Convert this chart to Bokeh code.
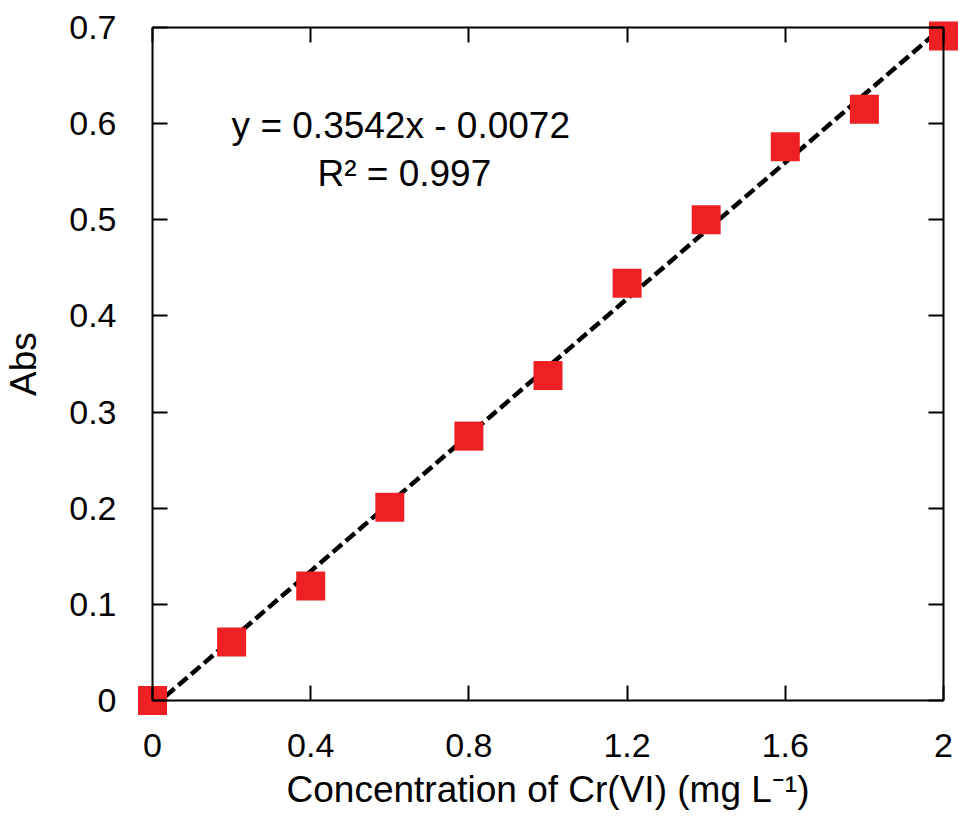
from bokeh.plotting import figure
from bokeh.models import LinearAxis, FixedTicker, Range1d, Label
from bokeh.embed import file_html
from bokeh.resources import INLINE

# data
conc = [0.0, 0.2, 0.4, 0.6, 0.8, 1.0, 1.2, 1.4, 1.6, 1.8, 2.0]
absorb = [0.0, 0.061, 0.119, 0.201, 0.275, 0.338, 0.434, 0.500, 0.576, 0.615, 0.691]
slope = 0.3542
intercept = -0.0072
fit_x = [0.0, 2.0]
x_ticks = [0, 0.4, 0.8, 1.2, 1.6, 2.0]
x_tick_labels = ["0", "0.4", "0.8", "1.2", "1.6", "2"]
y_ticks = [0, 0.1, 0.2, 0.3, 0.4, 0.5, 0.6, 0.7]
y_tick_labels = ["0", "0.1", "0.2", "0.3", "0.4", "0.5", "0.6", "0.7"]
x_min, x_max = 0.0, 2.0
y_min, y_max = 0.0, 0.7
eq_text = "y = 0.3542x - 0.0072"
r2_text = "R² = 0.997"

FONT = "Liberation Sans"
FS = "34px"
FS_LABEL = "37px"

# small padding so edge markers are not clipped; box axes are pinned to the data box
pad_x = 0.0405
pad_y = 0.0166

p = figure(width=959, height=818, output_backend="svg", toolbar_location=None,
           x_range=Range1d(x_min - pad_x, x_max + pad_x),
           y_range=Range1d(y_min - pad_y, y_max + pad_y),
           min_border_left=136, min_border_right=0, min_border_top=11, min_border_bottom=102,
           x_axis_label="Concentration of Cr(VI) (mg L⁻¹)", y_axis_label="Abs")
p.grid.visible = False
p.outline_line_color = None

fit_y = [slope * v + intercept for v in fit_x]
p.line(fit_x, fit_y, line_color="black", line_width=4.5, line_dash="12 5")
p.scatter(conc, absorb, marker="square", size=29, fill_color="#EE2024", line_color="#EE2024", line_width=0)

# label-only axes at the frame edges
xa = p.xaxis[0]
ya = p.yaxis[0]
for ax, ticks, labels in ((xa, x_ticks, x_tick_labels), (ya, y_ticks, y_tick_labels)):
    ax.ticker = FixedTicker(ticks=ticks)
    ax.major_label_overrides = dict(zip(ticks, labels))
    ax.axis_line_color = None
    ax.major_tick_line_color = None
    ax.minor_tick_line_color = None
    ax.major_tick_in = 0
    ax.major_tick_out = 0
    ax.major_label_text_font = FONT
    ax.major_label_text_font_size = FS
    ax.major_label_text_color = "black"
    ax.axis_label_text_font = FONT
    ax.axis_label_text_font_size = FS_LABEL
    ax.axis_label_text_font_style = "normal"
    ax.axis_label_text_color = "black"
xa.major_label_standoff = 17
ya.major_label_standoff = 20
xa.axis_label_standoff = 9
ya.axis_label_standoff = 22

# pinned box axes: lines + inward ticks (drawn as minor ticks, so no label texts)
def box_axis(ticks, loc, bounds, side):
    ax = LinearAxis(ticker=FixedTicker(ticks=[], minor_ticks=ticks), fixed_location=loc, bounds=bounds)
    ax.major_tick_line_color = None
    ax.minor_tick_in = 15
    ax.minor_tick_out = 0
    ax.minor_tick_line_width = 2
    ax.minor_tick_line_color = "black"
    ax.axis_line_width = 2
    ax.axis_line_color = "black"
    ax.major_label_standoff = 0
    p.add_layout(ax, side)
    return ax

box_axis(x_ticks, y_min, (x_min, x_max), "below")
box_axis(x_ticks, y_max, (x_min, x_max), "above")
box_axis(y_ticks, x_min, (y_min, y_max), "left")
box_axis(y_ticks, x_max, (y_min, y_max), "right")

p.add_layout(Label(x=0.2, y=0.598, text=eq_text, text_font=FONT, text_font_size=FS_LABEL,
                   text_color="black", text_baseline="alphabetic"))
p.add_layout(Label(x=0.417, y=0.548, text=r2_text, text_font=FONT, text_font_size=FS_LABEL,
                   text_color="black", text_baseline="alphabetic"))

open("out.html", "w").write(file_html(p, INLINE))
